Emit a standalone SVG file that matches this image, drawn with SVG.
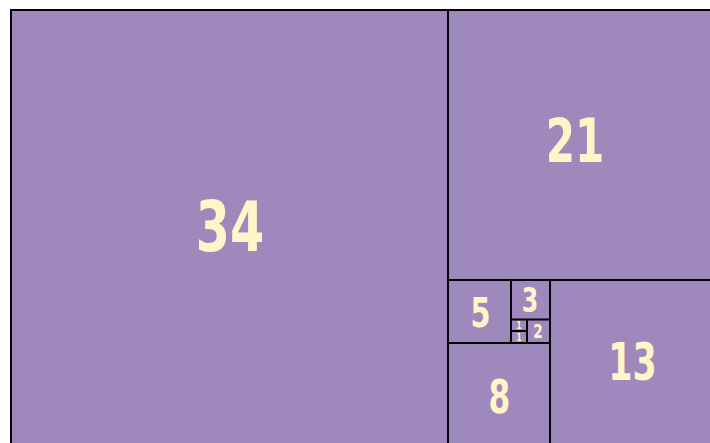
<svg xmlns="http://www.w3.org/2000/svg" width="710" height="443" viewBox="0 0 710 443">
<style>
.sq{fill:#9f89bc;stroke:none}
.ln{stroke:#000;stroke-width:2;fill:none}
.lb{font-family:"DejaVu Sans Condensed","DejaVu Sans",sans-serif;font-weight:bold;fill:#fff5c8;text-anchor:middle}
</style>
<rect width="710" height="443" fill="#fff"/>
<g id="sq34"><rect class="sq" x="11" y="10" width="437" height="433"/><text class="lb" font-size="70" transform="translate(230,251) scale(0.78,1)">34</text></g>
<g id="sq21"><rect class="sq" x="448" y="10" width="262" height="270"/><text class="lb" font-size="60" transform="translate(575,162) scale(0.78,1)">21</text></g>
<g id="sq13"><rect class="sq" x="550" y="280" width="160" height="163"/><text class="lb" font-size="51" transform="translate(632.5,380) scale(0.76,1)">13</text></g>
<g id="sq8"><rect class="sq" x="448" y="343" width="102" height="100"/><text class="lb" font-size="47" transform="translate(499.5,413) scale(0.74,1)">8</text></g>
<g id="sq5"><rect class="sq" x="448" y="280" width="63" height="63"/><text class="lb" font-size="41" transform="translate(480.5,327) scale(0.78,1)">5</text></g>
<g id="sq3"><rect class="sq" x="511" y="280" width="39" height="39"/><text class="lb" font-size="33" transform="translate(530,312) scale(0.8,1)">3</text></g>
<g id="sq2"><rect class="sq" x="527" y="319" width="23" height="24"/><text class="lb" font-size="19" transform="translate(538,338) scale(0.8,1)">2</text></g>
<g id="sq1a"><rect class="sq" x="511" y="319" width="16" height="12"/><text class="lb" font-size="10" transform="translate(519,328.5) scale(0.8,1)">1</text></g>
<g id="sq1b"><rect class="sq" x="511" y="331" width="16" height="12"/><text class="lb" font-size="10" transform="translate(519,341) scale(0.8,1)">1</text></g>
<g id="connectors">
<path class="ln" d="M11,443 V10 H710"/>
<path class="ln" d="M448,10 V443"/>
<path class="ln" d="M448,280 H710"/>
<path class="ln" d="M550,280 V443"/>
<path class="ln" d="M448,343 H550"/>
<path class="ln" d="M511,280 V343"/>
<path class="ln" d="M511,319.5 H550"/>
<path class="ln" d="M527,319.5 V343"/>
<path class="ln" d="M511,331 H527"/>
</g>
</svg>
